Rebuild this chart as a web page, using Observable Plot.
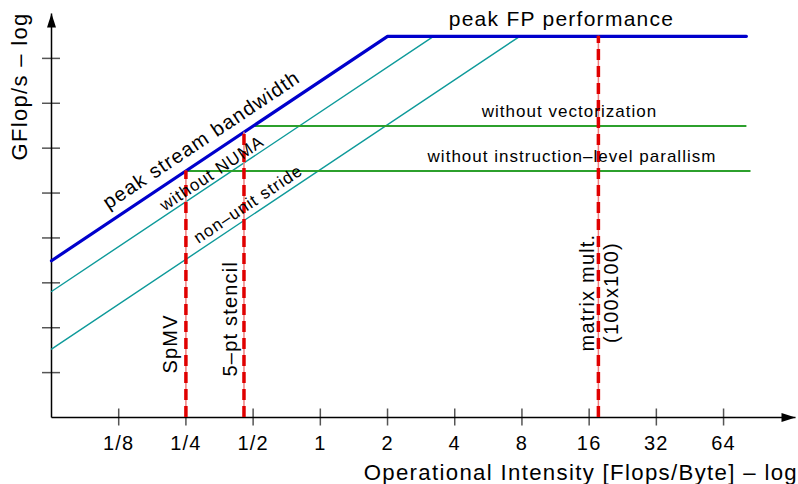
<!DOCTYPE html>
<html><head><meta charset="utf-8">
<script src="https://cdn.jsdelivr.net/npm/d3@7"></script>
<script src="https://cdn.jsdelivr.net/npm/@observablehq/plot@0.6"></script>
<style>
html,body{margin:0;padding:0;background:#fff;}
#chart svg text{letter-spacing:0.06em;}
</style></head><body><div id="chart"></div>
<script>
// ---- Roofline data (GFlop/s vs operational intensity, Flops/Byte) ----
const peakFP = 360;
const peakFPEnd = 81;
const bandwidthNames = ["peak stream bandwidth", "without NUMA", "non–unit stride"];
const bandwidthValues = [180, 112, 46];
const ceilingNames = ["without vectorization", "without instruction–level parallism"];
const ceilingValues = [90, 45];
const ceilingEnds = [81, 84.5];
const kernelNames = ["SpMV", "5–pt stencil", "matrix mult.\n(100x100)"];
const kernelIntensity = [0.25, 0.455, 17.6];
const xTickValues = [1/8, 1/4, 1/2, 1, 2, 4, 8, 16, 32, 64];
const xTickLabels = ["1/8", "1/4", "1/2", "1", "2", "4", "8", "16", "32", "64"];
const yTickValues = [2, 4, 8, 16, 32, 64, 128, 256];
const xDomain = [1/16, 134.4];
const yDomain = [1, 512];

// ---- layout ----
const W = 798, H = 484, mL = 51, mR = 3, mT = 13, mB = 67;
const xPerDbl = (W - mL - mR) / Math.log2(xDomain[1] / xDomain[0]);
const yPerDbl = (H - mT - mB) / Math.log2(yDomain[1] / yDomain[0]);
const slant = -Math.atan2(yPerDbl, xPerDbl) * 180 / Math.PI;
const FONT = "'Liberation Sans', Arial, Helvetica, sans-serif";

// ---- derived tables ----
const x0 = xDomain[0];
const roofs = bandwidthNames.map((name, i) => {
  const bw = bandwidthValues[i];
  const ridge = peakFP / bw;
  const mid = Math.sqrt(x0 * ridge);
  return {name, bw, ridge, mid, midY: bw * mid};
});
const bluePts = [
  {x: x0, y: roofs[0].bw * x0},
  {x: roofs[0].ridge, y: peakFP},
  {x: peakFPEnd, y: peakFP}
];
const tealPts = roofs.slice(1).flatMap(r => [
  {name: r.name, x: x0, y: r.bw * x0},
  {name: r.name, x: r.ridge, y: peakFP}
]);
const ceilings = ceilingNames.map((name, i) => {
  const v = ceilingValues[i];
  const start = v / bandwidthValues[0];
  return {name, v, start, end: ceilingEnds[i], mid: Math.sqrt(start * ceilingEnds[i])};
});
const kernels = kernelNames.map((name, i) => ({
  name, oi: kernelIntensity[i],
  top: Math.min(bandwidthValues[0] * kernelIntensity[i], peakFP)
}));
const peakLabel = [{name: "peak FP performance", x: Math.sqrt(roofs[0].ridge * peakFPEnd), y: peakFP}];

const arrowUp = {draw(ctx) { ctx.moveTo(0, 0); ctx.lineTo(4.5, 14); ctx.lineTo(-4.5, 14); ctx.closePath(); }};
const arrowRight = {draw(ctx) { ctx.moveTo(0, 0); ctx.lineTo(-14, -4.5); ctx.lineTo(-14, 4.5); ctx.closePath(); }};

const slantLabel = (i, dx, dy, fs) => Plot.text([roofs[i]], {
  x: "mid", y: "midY", text: "name", rotate: slant, dx, dy, fontSize: fs, lineAnchor: "middle"
});
const ceilLabel = (i, dx, dy) => Plot.text([ceilings[i]], {
  x: "mid", y: "v", text: "name", dx, dy, fontSize: 17, lineAnchor: "middle"
});
const kernLabel = (i, dx, dy, anchor) => Plot.text([kernels[i]], {
  x: "oi", frameAnchor: "bottom", text: "name", rotate: -90, textAnchor: anchor, lineAnchor: "middle",
  dx, dy, fontSize: 20, lineHeight: 1.2
});

const chart = Plot.plot({
  width: W, height: H,
  marginLeft: mL, marginRight: mR, marginTop: mT, marginBottom: mB,
  style: {fontFamily: FONT, background: "white", color: "black"},
  x: {type: "log", base: 2, domain: xDomain, axis: null},
  y: {type: "log", base: 2, domain: yDomain, axis: null},
  marks: [
    // axes
    Plot.ruleY(yTickValues, {y: d => d, x1: () => xDomain[0], x2: () => xDomain[0], insetLeft: -9, insetRight: -9, stroke: "#555", strokeWidth: 1.5}),
    Plot.ruleX(xTickValues, {x: d => d, y1: () => yDomain[0], y2: () => yDomain[0], insetTop: -8.5, insetBottom: -8.5, stroke: "#555", strokeWidth: 1.5}),
    Plot.link([{x1: xDomain[0], y1: yDomain[0], x2: xDomain[0], y2: yDomain[1]},
               {x1: xDomain[0], y1: yDomain[0], x2: xDomain[1], y2: yDomain[0]}],
              {x1: "x1", y1: "y1", x2: "x2", y2: "y2", stroke: "black", strokeWidth: 1.5}),
    Plot.dot([{x: xDomain[0], y: yDomain[1]}], {x: "x", y: "y", symbol: arrowUp, fill: "black", stroke: "none"}),
    Plot.dot([{x: xDomain[1], y: yDomain[0]}], {x: "x", y: "y", symbol: arrowRight, fill: "black", stroke: "none"}),
    Plot.text(xTickValues, {x: d => d, y: () => yDomain[0], text: (d, i) => xTickLabels[i], dy: 26.5, fontSize: 20, lineAnchor: "middle"}),
    Plot.text(["Operational Intensity [Flops/Byte] – log"], {text: d => d, frameAnchor: "bottom-right", textAnchor: "end", lineAnchor: "middle", dx: 2.5, dy: 55, fontSize: 22.2}),
    Plot.text(["GFlop/s – log"], {text: d => d, frameAnchor: "top-left", rotate: -90, textAnchor: "end", lineAnchor: "middle", dx: -32, dy: -1, fontSize: 22}),

    // ceilings
    Plot.line(tealPts, {x: "x", y: "y", z: "name", stroke: "#0e9a9a", strokeWidth: 1.4}),
    Plot.link(ceilings, {x1: "start", x2: "end", y1: "v", y2: "v", stroke: "#2ca02c", strokeWidth: 2}),
    Plot.line(bluePts, {x: "x", y: "y", stroke: "#0000cc", strokeWidth: 3.2}),

    // kernels
    Plot.ruleX(kernels, {x: "oi", y1: () => yDomain[0], y2: "top", stroke: "#f08080", strokeWidth: 1.5}),
    Plot.ruleX(kernels, {x: "oi", y1: () => yDomain[0], y2: "top", stroke: "#e00000", strokeWidth: 3.5, strokeDasharray: "11,6"}),

    // labels
    Plot.text(peakLabel, {x: "x", y: "y", text: "name", dx: -5.5, dy: -17.4, fontSize: 21, lineAnchor: "middle"}),
    ceilLabel(0, 69.7, -14.4),
    ceilLabel(1, 103.8, -14.2),
    slantLabel(0, -18, -8.5, 20),
    slantLabel(1, -30.5, 9.6, 17),
    slantLabel(2, -37.5, 11.5, 17),
    kernLabel(0, -16.8, -44, "start"),
    kernLabel(1, -14.8, -41, "start"),
    kernLabel(2, 0, -125, "middle")
  ]
});
document.getElementById("chart").appendChild(chart);
</script></body></html>
